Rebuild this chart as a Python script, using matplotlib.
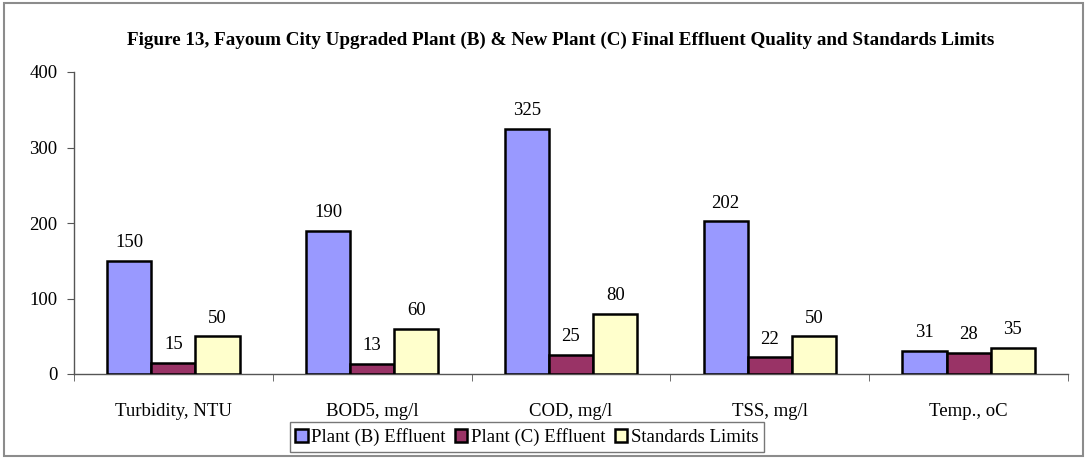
import matplotlib

matplotlib.use("Agg")
import matplotlib.pyplot as plt
import numpy as np
from matplotlib.patches import Rectangle

CATEGORIES = ["Turbidity, NTU", "BOD5, mg/l", "COD, mg/l", "TSS, mg/l", "Temp., oC"]
PLANT_B = [150, 190, 325, 202, 31]
PLANT_C = [15, 13, 25, 22, 28]
STANDARDS = [50, 60, 80, 50, 35]
SERIES_NAMES = ["Plant (B) Effluent", "Plant (C) Effluent", "Standards Limits"]
COLORS = ["#9999ff", "#993366", "#ffffcc"]
TITLE = "Figure 13, Fayoum City Upgraded Plant (B) & New Plant (C) Final Effluent Quality and Standards Limits"

plt.rcParams["font.family"] = ["Liberation Serif", "DejaVu Serif"]

fig = plt.figure(figsize=(10.87, 4.63), dpi=100)
ax = fig.add_axes([74 / 1087, 1 - 374 / 463, (1068 - 74) / 1087, (374 - 72) / 463])

# outer chart-area frame
fig.patches.append(Rectangle((4 / 1087, 1 - 456 / 463), 1079 / 1087, 453 / 463,
                             transform=fig.transFigure, fill=False, edgecolor="#8c8c8c", linewidth=1.5))

x = np.arange(len(CATEGORIES))
width = 1 / 4.5
for i, (values, name, color) in enumerate(zip([PLANT_B, PLANT_C, STANDARDS], SERIES_NAMES, COLORS)):
    pos = x + (i - 1) * width
    ax.bar(pos, values, width=width, color=color, edgecolor="black", linewidth=1.8, label=name, zorder=3)
    for px, v in zip(pos, values):
        ax.annotate(str(v), (px, v), xytext=(0, 7), textcoords="offset points",
                    ha="center", va="bottom", fontsize=13.5)

ax.set_xlim(-0.5, len(CATEGORIES) - 0.5)
ax.set_ylim(0, 400)
ax.set_yticks([0, 100, 200, 300, 400])
ax.set_xticks(x)
ax.set_xticklabels(CATEGORIES, fontsize=13.5)
ax.set_xticks(np.arange(len(CATEGORIES) + 1) - 0.5, minor=True)
ax.tick_params(axis="x", which="major", length=0, pad=21)
ax.tick_params(axis="x", which="minor", length=5, color="#555555", direction="out")
ax.tick_params(axis="y", length=5, color="#555555", labelsize=13.5, pad=7)

for side in ("top", "right"):
    ax.spines[side].set_visible(False)
for side in ("left", "bottom"):
    ax.spines[side].set_color("#555555")
    ax.spines[side].set_linewidth(1.0)

fig.text(0.5155, 1 - 40 / 463, TITLE, ha="center", va="center", fontsize=13.8, fontweight="bold")

leg = fig.legend(loc="center", bbox_to_anchor=(527 / 1087, 1 - 437 / 463), ncol=3, fontsize=13.5,
                 frameon=True, fancybox=False, edgecolor="#555555", handlelength=0.65, handleheight=0.65,
                 handletextpad=0.2, columnspacing=0.5, borderpad=0.3, borderaxespad=0)
leg.get_frame().set_linewidth(1.0)

fig.savefig("out.png", dpi=100)
